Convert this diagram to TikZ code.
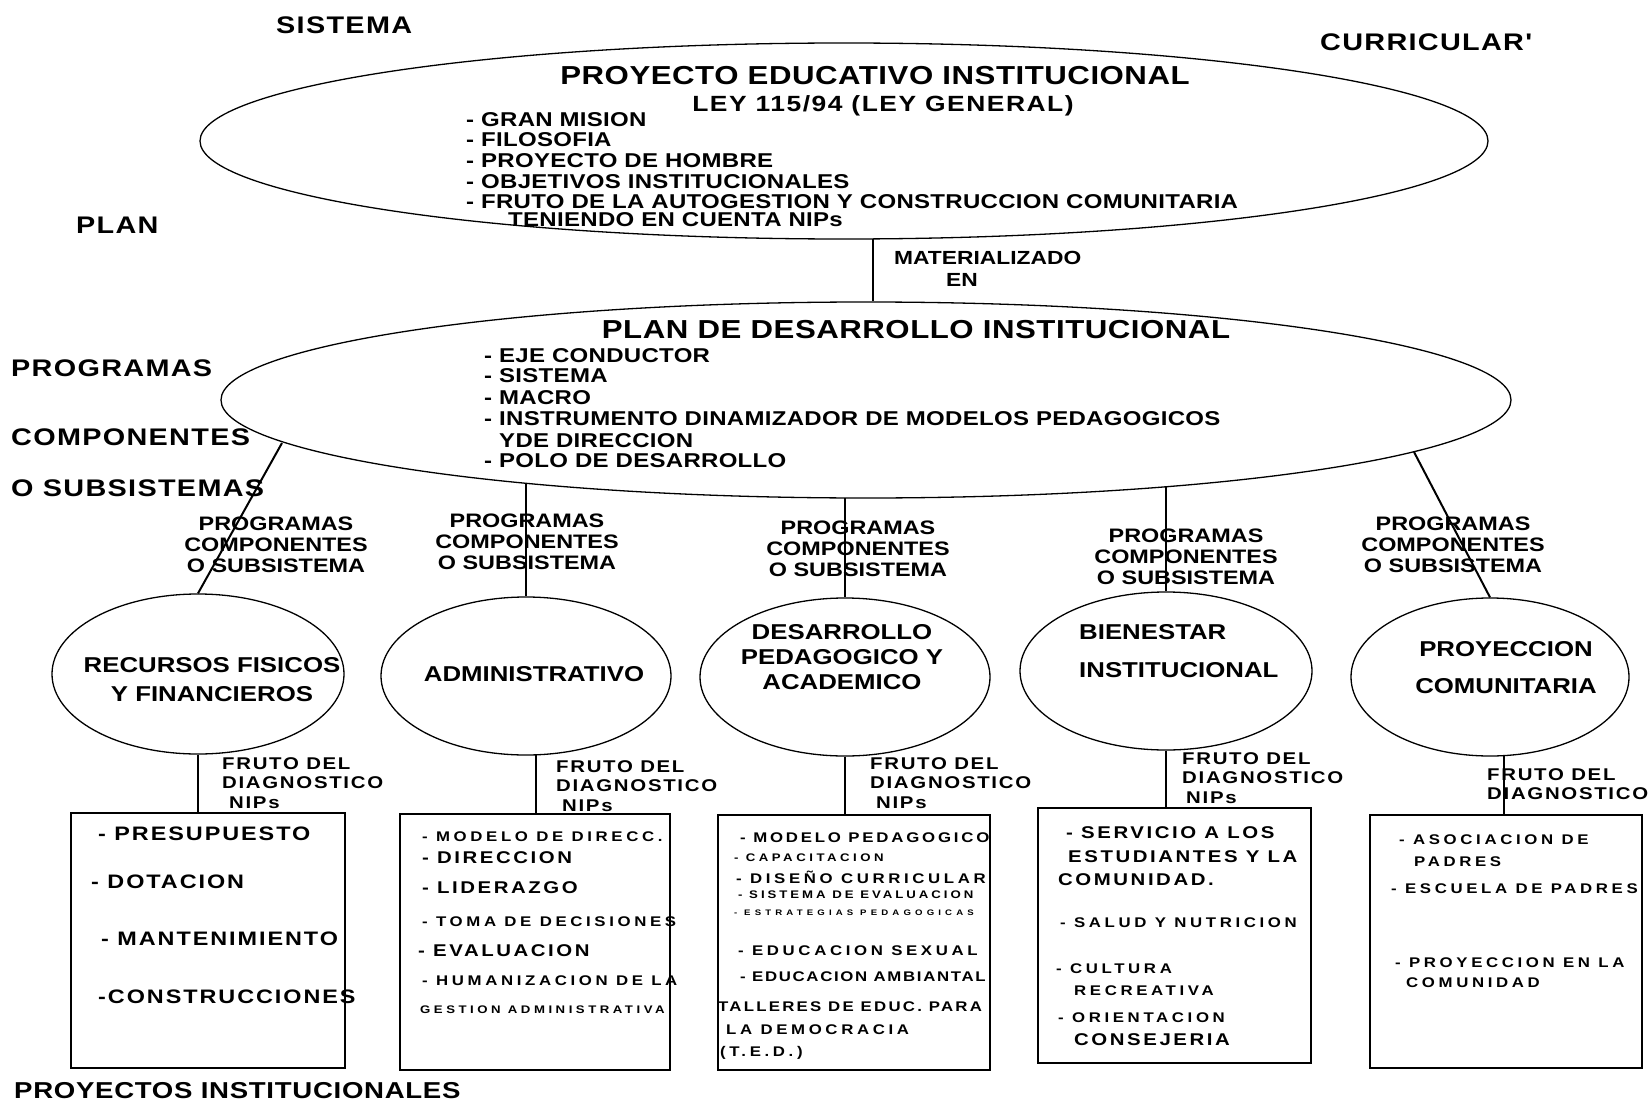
\documentclass[tikz,border=0pt]{standalone}
\usepackage{fontspec}
\usetikzlibrary{shapes.geometric}
\newfontfamily\diafont{Liberation Sans}[FakeStretch=1.2]
\tikzset{
  oval/.style={draw,ellipse,line width=1.3pt,inner sep=0pt},
  ring/.style={oval,minimum width=290pt,minimum height=158pt},
  panel/.style={draw,line width=1.2pt,inner sep=0pt},
  link/.style={line width=2pt},
  sidelabel/.style={anchor=west,inner sep=0pt,font=\diafont\fontsize{24}{28}\selectfont\bfseries\addfontfeature{LetterSpace=5.5}},
  headtext/.style={inner sep=0pt,font=\diafont\fontsize{26}{30}\selectfont\bfseries\addfontfeature{LetterSpace=2}},
  lawtext/.style={inner sep=0pt,font=\diafont\fontsize{22}{26}\selectfont\bfseries\addfontfeature{LetterSpace=7}},
  listtext/.style={anchor=west,inner sep=0pt,font=\diafont\fontsize{20}{24}\selectfont\bfseries\addfontfeature{LetterSpace=1.5}},
  smalltext/.style={anchor=west,align=left,inner sep=0pt,font=\diafont\fontsize{19}{22}\selectfont\bfseries},
  branchtext/.style={align=center,inner sep=0pt,font=\diafont\fontsize{19.5}{21}\selectfont\bfseries},
  ringtext/.style={align=center,inner sep=0pt,font=\diafont\fontsize{21.5}{25}\selectfont\bfseries},
  frutotext/.style={anchor=west,align=left,inner sep=0pt,font=\diafont\fontsize{17}{19.5}\selectfont\bfseries\addfontfeature{LetterSpace=10}},
  boxbig/.style={anchor=west,inner sep=0pt,font=\diafont\fontsize{19.5}{23}\selectfont\bfseries\addfontfeature{LetterSpace=10}},
  boxmid/.style={anchor=west,inner sep=0pt,font=\diafont\fontsize{17}{20}\selectfont\bfseries\addfontfeature{LetterSpace=15}},
  boxsmall/.style={anchor=west,inner sep=0pt,font=\diafont\fontsize{14}{17}\selectfont\bfseries\addfontfeature{LetterSpace=26}},
  boxtiny/.style={anchor=west,inner sep=0pt,font=\diafont\fontsize{11}{13}\selectfont\bfseries\addfontfeature{LetterSpace=32}},
  boxmicro/.style={anchor=west,inner sep=0pt,font=\diafont\fontsize{8}{10}\selectfont\bfseries\addfontfeature{LetterSpace=52}},
}
\begin{document}
\begin{tikzpicture}[x=1pt,y=-1pt]
  \path[use as bounding box,fill=white] (0,0) rectangle (1649,1110);

  % labels at the side
  \node[sidelabel] (sis) at (276,25) {SISTEMA};
  \node[sidelabel] (cur) at (1320,42) {CURRICULAR'};
  \node[sidelabel] (plan) at (76,225) {PLAN};
  \node[sidelabel] (prog) at (11,368) {PROGRAMAS};
  \node[sidelabel] (comp) at (11,437) {COMPONENTES};
  \node[sidelabel] (subs) at (11,488) {O SUBSISTEMAS};
  \node[sidelabel,font=\diafont\fontsize{23}{27}\selectfont\bfseries\addfontfeature{LetterSpace=3}] (proy) at (14,1091) {PROYECTOS INSTITUCIONALES};

  % proyecto educativo institucional
  \node[oval,minimum width=1288pt,minimum height=196pt] (pei) at (844,141) {};
  \node[headtext] (peit) at (875,76) {PROYECTO EDUCATIVO INSTITUCIONAL};
  \node[lawtext] (ley) at (883,106) {LEY 115/94 (LEY GENERAL)};
  \node[listtext] (pa) at (466,120) {- GRAN MISION};
  \node[listtext] (pb) at (466,140) {- FILOSOFIA};
  \node[listtext] (pc) at (466,161) {- PROYECTO DE HOMBRE};
  \node[listtext] (pd) at (466,182) {- OBJETIVOS INSTITUCIONALES};
  \node[listtext] (pe) at (466,202) {- FRUTO DE LA AUTOGESTION Y CONSTRUCCION COMUNITARIA};
  \node[listtext] (pf) at (508,220) {TENIENDO EN CUENTA NIPs};

  % plan de desarrollo institucional
  \node[oval,minimum width=1290pt,minimum height=196pt] (pdi) at (866,400) {};
  \node[headtext] (pdit) at (916,330) {PLAN DE DESARROLLO INSTITUCIONAL};
  \node[listtext] (da) at (484,356) {- EJE CONDUCTOR};
  \node[listtext] (db) at (484,376) {- SISTEMA};
  \node[listtext] (dc) at (484,398) {- MACRO};
  \node[listtext] (dd) at (484,419) {- INSTRUMENTO DINAMIZADOR DE MODELOS PEDAGOGICOS};
  \node[listtext] (de) at (499,441) {YDE DIRECCION};
  \node[listtext] (df) at (484,461) {- POLO DE DESARROLLO};

  \coordinate (q1) at (873,239);
  \draw[link] (q1) -- (q1 |- pdi.north);
  \node[smalltext] (mat) at (894,269) {MATERIALIZADO\\\hspace*{52pt}EN};

  % componentes
  \node[ring,minimum width=292pt,minimum height=160pt] (e1) at (198,674) {};
  \node[ring] (e2) at (526,676) {};
  \node[ring] (e3) at (845,677) {};
  \node[ring,minimum width=292pt] (e4) at (1166,671) {};
  \node[ring,minimum width=278pt] (e5) at (1490,677) {};
  \node[ringtext] (t1) at (212,680) {RECURSOS FISICOS\\[4pt]Y FINANCIEROS};
  \node[ringtext] (t2) at (534,674) {ADMINISTRATIVO};
  \node[ringtext] (t3) at (842,657) {DESARROLLO\\PEDAGOGICO Y\\ACADEMICO};
  \node[ringtext,align=left,anchor=west] (t4) at (1079,651) {BIENESTAR\\[13pt]INSTITUCIONAL};
  \node[ringtext] (t5) at (1506,668) {PROYECCION\\[12pt]COMUNITARIA};

  \coordinate (p1) at (282,443);
  \coordinate (p2) at (526,483);
  \coordinate (p3) at (845,498);
  \coordinate (p4) at (1166,487);
  \coordinate (p5) at (1414,452);
  \draw[link] (p1) -- (e1.north);
  \draw[link] (p2) -- (e2.north);
  \draw[link] (p3) -- (e3.north);
  \draw[link] (p4) -- (e4.north);
  \draw[link] (p5) -- (e5.north);
  \node[branchtext] (g1) at (276,545) {PROGRAMAS\\COMPONENTES\\O SUBSISTEMA};
  \node[branchtext] (g2) at (527,542) {PROGRAMAS\\COMPONENTES\\O SUBSISTEMA};
  \node[branchtext] (g3) at (858,549) {PROGRAMAS\\COMPONENTES\\O SUBSISTEMA};
  \node[branchtext] (g4) at (1186,557) {PROGRAMAS\\COMPONENTES\\O SUBSISTEMA};
  \node[branchtext] (g5) at (1453,545) {PROGRAMAS\\COMPONENTES\\O SUBSISTEMA};

  % proyectos
  \node[panel,minimum width=274pt,minimum height=255pt] (b1) at (208,940.5) {};
  \node[panel,minimum width=270pt,minimum height=256pt] (b2) at (535,942) {};
  \node[panel,minimum width=272pt,minimum height=255pt] (b3) at (854,942.5) {};
  \node[panel,minimum width=273pt,minimum height=255pt] (b4) at (1174.5,935.5) {};
  \node[panel,minimum width=272pt,minimum height=253pt] (b5) at (1506,941.5) {};

  \draw[link] (e1.south) -- (e1.south |- b1.north);
  \draw[link] (e2.-83.5) -- (e2.-83.5 |- b2.north);
  \draw[link] (e3.south) -- (e3.south |- b3.north);
  \draw[link] (e4.south) -- (e4.south |- b4.north);
  \draw[link] (e5.-80.7) -- (e5.-80.7 |- b5.north);
  \node[frutotext] (f1) at (222,783) {FRUTO DEL\\DIAGNOSTICO\\\hspace*{7pt}NIPs};
  \node[frutotext] (f2) at (556,786) {FRUTO DEL\\DIAGNOSTICO\\\hspace*{6pt}NIPs};
  \node[frutotext] (f3) at (870,783) {FRUTO DEL\\DIAGNOSTICO\\\hspace*{6pt}NIPs};
  \node[frutotext] (f4) at (1182,778) {FRUTO DEL\\DIAGNOSTICO\\\hspace*{4pt}NIPs};
  \node[frutotext] (f5) at (1487,784) {FRUTO DEL\\DIAGNOSTICO};

  % recursos fisicos
  \node[boxbig] (r1) at (98,834) {- PRESUPUESTO};
  \node[boxbig] (r2) at (91,882) {- DOTACION};
  \node[boxbig] (r3) at (101,939) {- MANTENIMIENTO};
  \node[boxbig] (r4) at (98,997) {-CONSTRUCCIONES};
  % administrativo
  \node[boxsmall] (a1) at (422,837) {- MODELO DE DIRECC.};
  \node[boxmid] (a2) at (422,858) {- DIRECCION};
  \node[boxmid] (a3) at (422,888) {- LIDERAZGO};
  \node[boxsmall] (a4) at (422,922) {- TOMA DE DECISIONES};
  \node[boxmid] (a5) at (418,951) {- EVALUACION};
  \node[boxsmall] (a6) at (422,981) {- HUMANIZACION DE LA};
  \node[boxtiny] (a7) at (420,1010) {GESTION ADMINISTRATIVA};
  % pedagogico
  \node[boxsmall] (c1) at (740,838) {\addfontfeature{LetterSpace=20}- MODELO PEDAGOGICO};
  \node[boxtiny] (c2) at (734,858) {- CAPACITACION};
  \node[boxsmall] (c3) at (736,877) {- DISEÑO CURRICULAR};
  \node[boxtiny] (c4) at (738,895) {\addfontfeature{LetterSpace=27}- SISTEMA DE EVALUACION};
  \node[boxmicro] (c5) at (734,913) {- ESTRATEGIAS PEDAGOGICAS};
  \node[boxsmall] (c6) at (738,951) {- EDUCACION SEXUAL};
  \node[boxsmall] (c7) at (740,977) {\addfontfeature{LetterSpace=12}- EDUCACION AMBIANTAL};
  \node[boxsmall] (c8) at (718,1007) {\addfontfeature{LetterSpace=16}TALLERES DE EDUC. PARA};
  \node[boxsmall] (c9) at (726,1030) {LA DEMOCRACIA};
  \node[boxsmall] (c10) at (720,1053) {(T.E.D.)};
  % bienestar
  \node[boxmid] (w1) at (1066,833) {- SERVICIO A LOS};
  \node[boxmid] (w2) at (1068,857) {ESTUDIANTES Y LA};
  \node[boxmid] (w3) at (1058,880) {COMUNIDAD.};
  \node[boxsmall] (w4) at (1060,923) {- SALUD Y NUTRICION};
  \node[boxsmall] (w5) at (1056,969) {- CULTURA};
  \node[boxsmall] (w6) at (1074,991) {RECREATIVA};
  \node[boxsmall] (w7) at (1058,1018) {- ORIENTACION};
  \node[boxmid] (w8) at (1074,1040) {CONSEJERIA};
  % proyeccion comunitaria
  \node[boxsmall] (m1) at (1399,840) {- ASOCIACION DE};
  \node[boxsmall] (m2) at (1414,862) {PADRES};
  \node[boxsmall] (m3) at (1391,889) {- ESCUELA DE PADRES};
  \node[boxsmall] (m4) at (1395,963) {- PROYECCION EN LA};
  \node[boxsmall] (m5) at (1406,983) {COMUNIDAD};
\end{tikzpicture}
\end{document}
